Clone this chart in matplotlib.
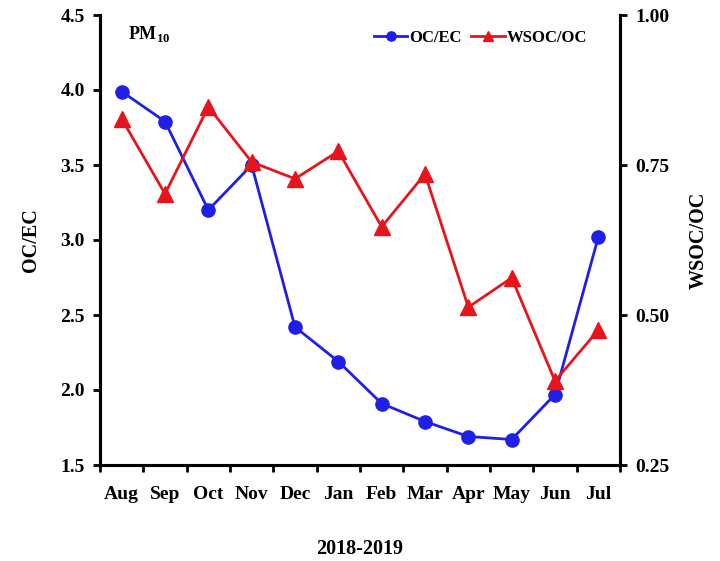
import numpy as np
import matplotlib
matplotlib.use('Agg')
import matplotlib.pyplot as plt

months = ['Aug', 'Sep', 'Oct', 'Nov', 'Dec', 'Jan', 'Feb', 'Mar', 'Apr', 'May', 'Jun', 'Jul']
oc_ec = [3.99, 3.79, 3.20, 3.50, 2.42, 2.19, 1.91, 1.79, 1.69, 1.67, 1.97, 3.02]
wsoc_oc = [0.827, 0.702, 0.847, 0.755, 0.727, 0.773, 0.647, 0.735, 0.513, 0.562, 0.390, 0.475]

plt.rcParams['font.family'] = 'Liberation Serif'
plt.rcParams['font.weight'] = 'bold'
plt.rcParams['mathtext.fontset'] = 'custom'
plt.rcParams['mathtext.rm'] = 'Liberation Serif:bold'
plt.rcParams['mathtext.bf'] = 'Liberation Serif:bold'

blue = '#1f1fe6'
red = '#e8141c'

fig = plt.figure(figsize=(7.2, 5.61), dpi=100)
ax = fig.add_axes([100 / 720, 96 / 561, 520 / 720, 450 / 561])
ax2 = ax.twinx()

x = np.arange(len(months)) + 0.5
l1, = ax.plot(x, oc_ec, color=blue, lw=2.0, marker='o', ms=9.5, label='OC/EC', zorder=3)
l2, = ax2.plot(x, wsoc_oc, color=red, lw=2.0, marker='^', ms=11, label='WSOC/OC', zorder=3)

ax.set_xlim(0, 12)
ax.set_ylim(1.5, 4.5)
ax2.set_ylim(0.25, 1.0)
ax.set_yticks([1.5, 2.0, 2.5, 3.0, 3.5, 4.0, 4.5])
ax.set_yticklabels(['%.1f' % v for v in ax.get_yticks()])
ax2.set_yticks([0.25, 0.50, 0.75, 1.00])
ax2.set_yticklabels(['%.2f' % v for v in ax2.get_yticks()])

# month labels sit between the boundary ticks
ax.set_xticks(x)
ax.set_xticklabels(months)
ax.set_xticks(np.arange(0, 13), minor=True)
ax.tick_params(axis='x', which='major', length=0, pad=15, labelsize=14)
ax.tick_params(axis='x', which='minor', length=5, width=2)
ax.tick_params(axis='y', length=5, width=2, labelsize=14, pad=6)
ax2.tick_params(axis='y', length=5, width=2, labelsize=14, pad=6)

for a in (ax, ax2):
    a.spines['top'].set_visible(False)
    for s in ('left', 'right', 'bottom'):
        a.spines[s].set_linewidth(2.2)

ax.set_ylabel('OC/EC', fontsize=14.5, fontweight='bold', labelpad=14)
ax2.set_ylabel('WSOC/OC', fontsize=14.5, fontweight='bold', labelpad=14)
ax.set_xlabel('2018-2019', fontsize=14.5, fontweight='bold', labelpad=26)

ax.text(0.054, 0.98, r'PM$_{\mathbf{10}}$', transform=ax.transAxes, fontsize=13,
        fontweight='bold', va='top', ha='left')

ax.legend(handles=[l1, l2], loc='upper right', bbox_to_anchor=(0.965, 1.0), ncol=2,
          frameon=False, fontsize=12, handlelength=2.0, handletextpad=0.1, columnspacing=0.6,
          markerscale=0.7)

fig.savefig('out.png', dpi=100)
